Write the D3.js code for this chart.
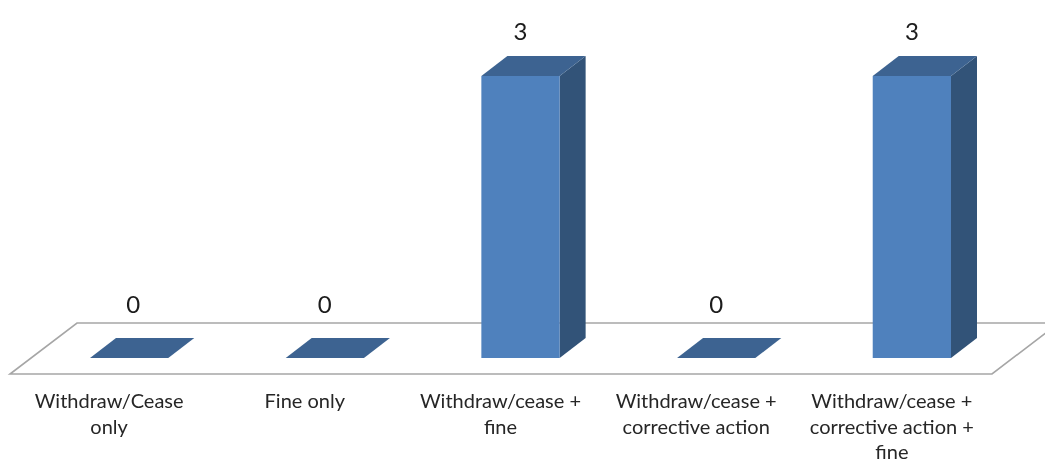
<!DOCTYPE html>
<html><head><meta charset="utf-8">
<script src="https://cdn.jsdelivr.net/npm/d3@7"></script>
<style>html,body{margin:0;padding:0;background:#fff;overflow:hidden}svg{display:block}text{font-family:Lato,"Open Sans",sans-serif}</style>
</head><body><svg id="c" width="1045" height="459"></svg>
<script>
const categories=["Withdraw/Cease only","Fine only","Withdraw/cease + fine","Withdraw/cease + corrective action","Withdraw/cease + corrective action + fine"];
const values=[0,0,3,0,3];
const categoryLines=[["Withdraw/Cease","only"],["Fine only"],["Withdraw/cease +","fine"],["Withdraw/cease +","corrective action"],["Withdraw/cease +","corrective action +","fine"]];
const W=1045,H=459,depthX=26,depthY=20;
const svg=d3.select("#c");
const defs=svg.append("defs");
defs.append("filter").attr("id","soft").append("feGaussianBlur").attr("stdDeviation",0.45);
const x=d3.scaleBand().domain(categories).range([90,951]).paddingInner(0.6).paddingOuter(0);
const y=d3.scaleLinear().domain([0,3]).range([358,76]);
const g=svg.append("g").attr("filter","url(#soft)");
const line=d3.line();
g.append("path").attr("d",line([[1060,323],[77,323],[10,374],[992,374],[1060,322]]))
 .attr("fill","none").attr("stroke","#a6a6a6").attr("stroke-width",1.6);
const bars=g.selectAll("g.bar").data(categories).join("g").attr("class","bar");
bars.each(function(c,i){
  const s=d3.select(this),x0=x(c),x1=x0+x.bandwidth(),yt=y(values[i]),yb=y(0);
  if(values[i]>0){
    s.append("path").attr("d",line([[x1,yt],[x1+depthX,yt-depthY],[x1+depthX,yb-depthY],[x1,yb]])+"Z").attr("fill","#325378");
    s.append("rect").attr("x",x0).attr("y",yt).attr("width",x.bandwidth()).attr("height",yb-yt).attr("fill","#4f81bd");
  }
  s.append("path").attr("d",line([[x0,yt],[x0+depthX,yt-depthY],[x1+depthX,yt-depthY],[x1,yt]])+"Z").attr("fill","#3e6491");
});
const labelNudge=[4,0,0,0,0];
g.selectAll("text.val").data(categories).join("text").attr("class","val")
 .attr("x",(c,i)=>x(c)+x.bandwidth()/2+labelNudge[i])
 .attr("y",(c,i)=>y(values[i])-(values[i]>0?36:45)).attr("text-anchor","middle")
 .attr("font-size",24).attr("fill","#1a1a1a").text((c,i)=>values[i]);
const cats=g.selectAll("text.cat").data(categories).join("text").attr("class","cat")
 .attr("text-anchor","middle").attr("font-size",20).attr("fill","#262626");
cats.each(function(c,i){
  const cx=x(c)+x.bandwidth()/2-20;
  d3.select(this).selectAll("tspan").data(categoryLines[i]).join("tspan")
    .attr("x",cx).attr("y",(d,j)=>408+j*25.5).text(d=>d);
});
</script></body></html>
